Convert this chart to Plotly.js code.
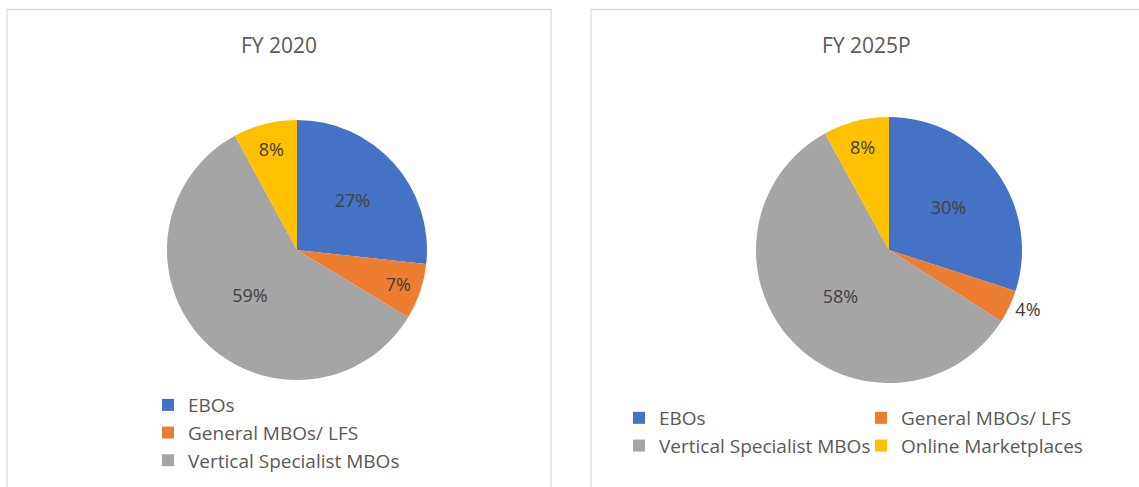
<!DOCTYPE html>
<html>
<head>
<meta charset="utf-8">
<script src="https://cdn.plot.ly/plotly-3.0.1.min.js"></script>
<style>
  html, body { margin: 0; padding: 0; background: #ffffff; }
  #wrap { position: relative; width: 1139px; height: 487px; overflow: hidden; }
  #left { position: absolute; left: 0; top: 0; width: 571px; height: 487px; }
  #right { position: absolute; left: 571px; top: 0; width: 568px; height: 487px; }
</style>
</head>
<body>
<div id="wrap">
  <div id="left"></div>
  <div id="right"></div>
</div>
<script>
// ---- data ----
const categories = ["EBOs", "General MBOs/ LFS", "Vertical Specialist MBOs", "Online Marketplaces"];
const sharesFY2020 = [27, 7, 59, 8];
const sharesFY2025P = [30, 4, 58, 8];
const titleFY2020 = "FY 2020";
const titleFY2025P = "FY 2025P";
const sliceColors = ["#4472C4", "#ED7D31", "#A5A5A5", "#FFC000"];

// ---- styling ----
const FONT = "Open Sans, sans-serif";
const H = 487;

function pieTrace(values, dom, textpos) {
  return {
    type: "pie",
    labels: categories,
    values: values,
    sort: false,
    direction: "clockwise",
    rotation: 0,
    domain: dom,
    marker: { colors: sliceColors, line: { width: 0 } },
    texttemplate: "%{value}%",
    textposition: textpos,
    insidetextorientation: "horizontal",
    insidetextfont: { family: FONT, size: 18, color: "#404040" },
    outsidetextfont: { family: FONT, size: 18, color: "#404040" },
    hoverinfo: "label+value",
    showlegend: true
  };
}

function panelLayout(W, panel, titleText, titleX, legend) {
  return {
    width: W,
    height: H,
    margin: { l: 0, r: 0, t: 0, b: 0, pad: 0, autoexpand: false },
    paper_bgcolor: "#ffffff",
    plot_bgcolor: "#ffffff",
    font: { family: FONT, color: "#595959" },
    shapes: [{
      type: "rect", xref: "paper", yref: "paper", layer: "below",
      x0: panel[0] / W, x1: panel[1] / W, y0: 1 - 520 / H, y1: 1 - 9.5 / H,
      line: { color: "#D9D9D9", width: 1.3 }, fillcolor: "rgba(0,0,0,0)"
    }],
    annotations: [{
      text: titleText, xref: "paper", yref: "paper",
      x: titleX / W, y: 1 - 45 / H, xanchor: "center", yanchor: "middle",
      showarrow: false, font: { family: FONT, size: 21, color: "#595959" }
    }],
    legend: legend
  };
}

// Left panel (FY 2020)
const WL = 571;
const leftTrace = pieTrace(sharesFY2020,
  { x: [167 / WL, 427 / WL], y: [1 - 380 / H, 1 - 120 / H] },
  ["inside", "inside", "inside", "inside"]);
const leftLayout = panelLayout(WL, [7, 551], titleFY2020, 279, {
  orientation: "v", x: 148 / WL, xanchor: "left", y: 1 - 386 / H, yanchor: "top",
  maxheight: 90,
  font: { family: FONT, size: 19, color: "#595959" },
  bgcolor: "rgba(0,0,0,0)", borderwidth: 0, traceorder: "normal"
});

// Right panel (FY 2025P)
const WR = 568;
const OFF = 571;
const rightTrace = pieTrace(sharesFY2025P,
  { x: [(756 - OFF) / WR, (1022 - OFF) / WR], y: [1 - 383 / H, 1 - 117 / H] },
  ["inside", "outside", "inside", "inside"]);
const rightLayout = panelLayout(WR, [591 - OFF, 1160 - OFF], titleFY2025P, 866 - OFF, {
  orientation: "h", x: (619 - OFF) / WR, xanchor: "left", y: 1 - 399 / H, yanchor: "top",
  entrywidth: 197, entrywidthmode: "pixels",
  font: { family: FONT, size: 19, color: "#595959" },
  bgcolor: "rgba(0,0,0,0)", borderwidth: 0, traceorder: "normal"
});

const cfg = { displayModeBar: false, staticPlot: true };
Plotly.newPlot("left", [leftTrace], leftLayout, cfg);
Plotly.newPlot("right", [rightTrace], rightLayout, cfg);
</script>
</body>
</html>
